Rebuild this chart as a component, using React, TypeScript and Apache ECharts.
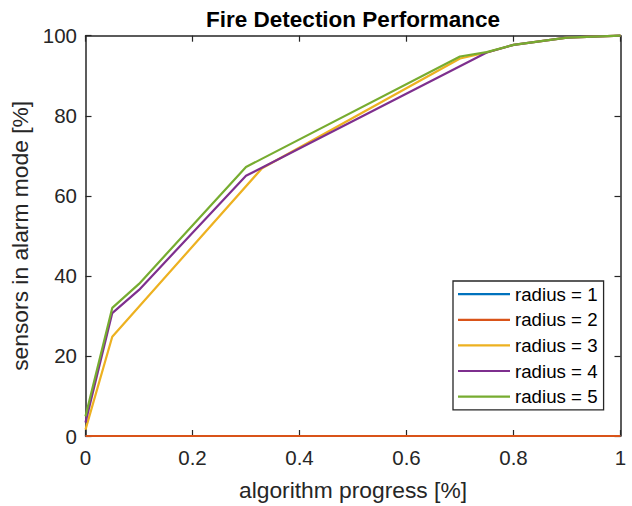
import React, { useEffect, useRef } from "react";
import * as echarts from "echarts";

const seriesNames = ["radius = 1", "radius = 2", "radius = 3", "radius = 4", "radius = 5"];
const colors = ["#0072BD", "#D95319", "#EDB120", "#7E2F8E", "#77AC30"];

const r1X = [0, 1];
const r1Y = [0, 0];
const r2X = [0, 1];
const r2Y = [0, 0];
const r3X = [0, 0.05, 0.33, 0.7, 0.75, 0.8, 0.9, 1];
const r3Y = [1.6, 24.8, 66.9, 94.3, 95.8, 97.7, 99.5, 100];
const r4X = [0, 0.05, 0.1, 0.3, 0.75, 0.8, 0.9, 1];
const r4Y = [3.4, 30.7, 36.5, 65, 95.8, 97.7, 99.5, 100];
const r5X = [0, 0.05, 0.1, 0.3, 0.7, 0.75, 0.8, 0.9, 1];
const r5Y = [4.9, 32, 38, 67.2, 94.8, 95.9, 97.7, 99.5, 100];

const xTicks = [0, 0.2, 0.4, 0.6, 0.8, 1];
const yTicks = [0, 20, 40, 60, 80, 100];

const titleText = "Fire Detection Performance";
const xName = "algorithm progress [%]";
const yName = "sensors in alarm mode [%]";

const FONT = "'Liberation Sans', Arial, Helvetica, sans-serif";
const AX = "#262626";

function zip(xs: number[], ys: number[]) {
  return xs.map((x, i) => [x, ys[i]]);
}

export default function App() {
  const ref = useRef<HTMLDivElement>(null);
  useEffect(() => {
    if (!ref.current) return;
    const chart = echarts.init(ref.current, undefined, { renderer: "svg" });
    const allX = [r1X, r2X, r3X, r4X, r5X];
    const allY = [r1Y, r2Y, r3Y, r4Y, r5Y];
    const axisCommon = {
      type: "value" as const,
      axisLine: { show: true, onZero: false, lineStyle: { color: AX, width: 1.5 } },
      axisTick: { show: true, inside: true, length: 6, lineStyle: { color: AX, width: 1.2 } },
      splitLine: { show: false },
    };
    chart.setOption({
      animation: false,
      backgroundColor: "#ffffff",
      color: colors,
      title: {
        text: titleText,
        left: 353,
        top: 8,
        textAlign: "center",
        padding: 0,
        textStyle: { fontFamily: FONT, fontSize: 22.5, fontWeight: "bold", color: "#000000" },
      },
      grid: { left: 85.5, right: 11.5, top: 35.7, bottom: 70, containLabel: false },
      xAxis: [
        {
          ...axisCommon,
          position: "bottom",
          min: xTicks[0],
          max: xTicks[xTicks.length - 1],
          interval: 0.2,
          name: xName,
          nameLocation: "middle",
          nameGap: 42,
          nameTextStyle: { fontFamily: FONT, fontSize: 22.8, color: AX },
          axisLabel: { fontFamily: FONT, fontSize: 20.5, color: AX, margin: 11 },
        },
        {
          ...axisCommon,
          position: "top",
          min: xTicks[0],
          max: xTicks[xTicks.length - 1],
          interval: 0.2,
          axisLabel: { show: false },
        },
      ],
      yAxis: [
        {
          ...axisCommon,
          position: "left",
          min: yTicks[0],
          max: yTicks[yTicks.length - 1],
          interval: 20,
          name: yName,
          nameLocation: "middle",
          nameGap: 46,
          nameTextStyle: { fontFamily: FONT, fontSize: 22.8, color: AX },
          axisLabel: { fontFamily: FONT, fontSize: 20.5, color: AX, margin: 8.5 },
        },
        {
          ...axisCommon,
          position: "right",
          min: yTicks[0],
          max: yTicks[yTicks.length - 1],
          interval: 20,
          axisLabel: { show: false },
        },
      ],
      legend: {
        orient: "vertical",
        left: 453,
        top: 281,
        padding: [3.7, 6, 3.7, 5],
        icon: "rect",
        itemWidth: 52,
        itemHeight: 2.2,
        itemGap: 6.6,
        backgroundColor: "#ffffff",
        borderColor: AX,
        borderWidth: 1.3,
        borderRadius: 0,
        textStyle: { fontFamily: FONT, fontSize: 18.7, color: "#000000" },
        data: seriesNames,
      },
      series: seriesNames.map((name, i) => ({
        name,
        type: "line",
        data: zip(allX[i], allY[i]),
        symbol: "none",
        showSymbol: false,
        clip: false,
        lineStyle: { width: 2.2, color: colors[i] },
        itemStyle: { color: colors[i] },
      })),
    });
    return () => chart.dispose();
  }, []);
  return (
    <div
      ref={ref}
      style={{ position: "fixed", left: 0, top: 0, width: 632, height: 506 }}
    />
  );
}
